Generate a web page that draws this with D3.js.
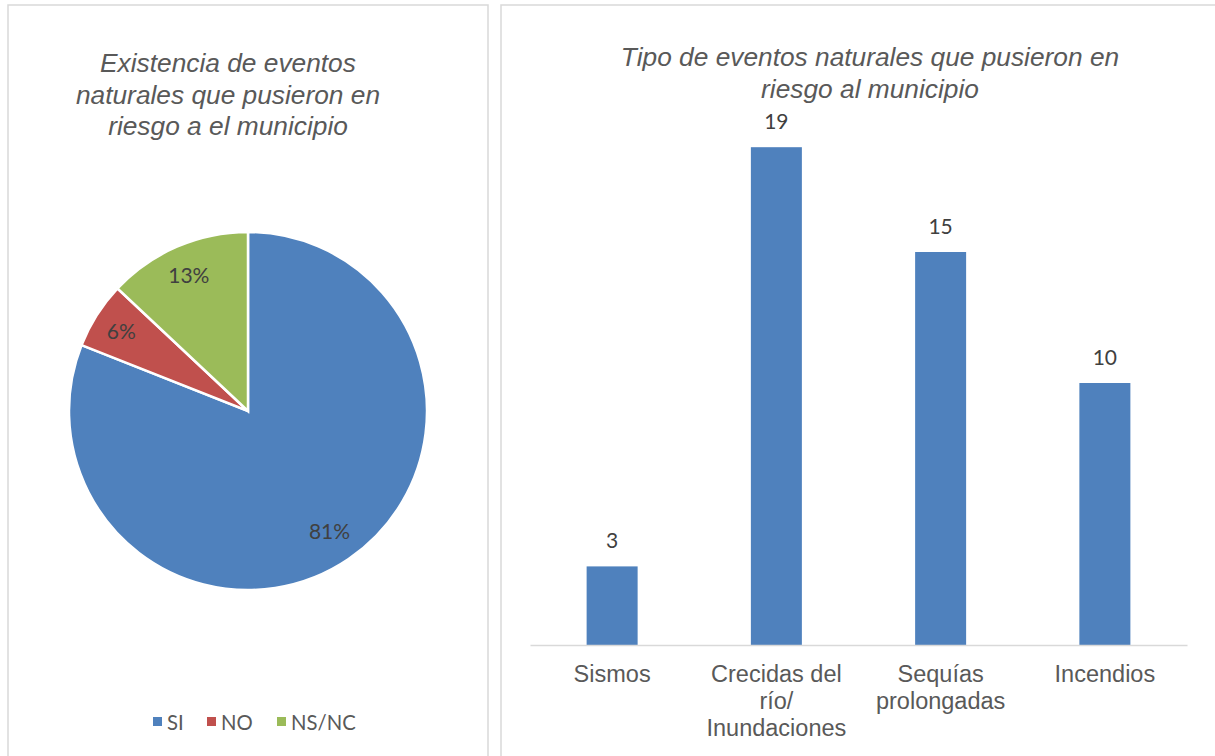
<!DOCTYPE html>
<html><head><meta charset="utf-8">
<script src="https://cdn.jsdelivr.net/npm/d3@7"></script>
<style>
html,body{margin:0;padding:0;background:#fff;}
svg{display:block;}
</style></head>
<body>
<svg id="chart" width="1215" height="756"></svg>
<script>
// ---- data ----
const pieCategories = ["SI", "NO", "NS/NC"];
const pieValues = [81, 6, 13];
const pieColors = ["#4f81bd", "#c0504d", "#9bbb59"];
const pieTitle = ["Existencia de eventos", "naturales que pusieron en", "riesgo a el municipio"];

const barCategories = [["Sismos"], ["Crecidas del", "río/", "Inundaciones"], ["Sequías", "prolongadas"], ["Incendios"]];
const barValues = [3, 19, 15, 10];
const barTitle = ["Tipo de eventos naturales que pusieron en", "riesgo al municipio"];
const barColor = "#4f81bd";

const svg = d3.select("#chart");
const borderColor = "#d9d9d9";
const titleFont = "'Liberation Sans', Arial, sans-serif";
const labelFont = "Lato, 'Open Sans', sans-serif";

// panels
svg.append("rect").attr("x", 8).attr("y", 5).attr("width", 480).attr("height", 780)
  .attr("fill", "#fff").attr("stroke", borderColor).attr("stroke-width", 1.5);
svg.append("rect").attr("x", 501).attr("y", 5).attr("width", 760).attr("height", 780)
  .attr("fill", "#fff").attr("stroke", borderColor).attr("stroke-width", 1.5);

// ---- pie ----
const cx = 248, cy = 411, R = 179;
const pieGen = d3.pie().sort(null).value(d => d)(pieValues);
const arc = d3.arc().innerRadius(0).outerRadius(R);
const labelR = [145, 150, 149];
const gp = svg.append("g").attr("transform", `translate(${cx},${cy})`);
gp.selectAll("path").data(pieGen).join("path")
  .attr("d", arc).attr("fill", (d, i) => pieColors[i])
  .attr("stroke", "#fff").attr("stroke-width", 2.5).attr("stroke-linejoin", "miter");
gp.selectAll("text").data(pieGen).join("text")
  .attr("transform", (d, i) => `translate(${d3.arc().innerRadius(labelR[i]).outerRadius(labelR[i]).centroid(d)})`)
  .attr("text-anchor", "middle").attr("dominant-baseline", "central")
  .attr("font-family", labelFont).attr("font-size", 21).attr("fill", "#404040")
  .text(d => d.data + "%");

// pie title
svg.append("text").attr("x", 228).attr("y", 72)
  .attr("text-anchor", "middle").attr("font-family", titleFont).attr("font-style", "italic")
  .attr("font-size", 26.3).attr("fill", "#595959")
  .selectAll("tspan").data(pieTitle).join("tspan")
  .attr("x", 228).attr("dy", (d, i) => i === 0 ? 0 : 31.5).text(d => d);

// legend
const legendX = [153, 207, 277];
const lg = svg.append("g");
pieCategories.forEach((c, i) => {
  lg.append("rect").attr("x", legendX[i]).attr("y", 717).attr("width", 9).attr("height", 9)
    .attr("fill", pieColors[i]);
  lg.append("text").attr("x", legendX[i] + 14).attr("y", 721.5)
    .attr("dominant-baseline", "central")
    .attr("font-family", labelFont).attr("font-size", 20.3).attr("fill", "#595959").text(c);
});

// ---- bar chart ----
const x0 = 530, x1 = 1187, yBase = 645, yTop = 121;
const p = 1 - 51 / ((x1 - x0) / 4);
const x = d3.scaleBand().domain(d3.range(barValues.length)).range([x0, x1])
  .paddingInner(p).paddingOuter(p / 2);
const y = d3.scaleLinear().domain([0, 20]).range([yBase, yTop]);

const gb = svg.append("g");
gb.selectAll("rect").data(barValues).join("rect")
  .attr("x", (d, i) => x(i)).attr("width", x.bandwidth())
  .attr("y", d => y(d)).attr("height", d => y(0) - y(d))
  .attr("fill", barColor);
gb.selectAll("text.val").data(barValues).join("text").attr("class", "val")
  .attr("x", (d, i) => x(i) + x.bandwidth() / 2).attr("y", d => y(d) - 18)
  .attr("text-anchor", "middle").attr("font-family", labelFont).attr("font-size", 21)
  .attr("fill", "#404040").text(d => d);

const xAxis = d3.axisBottom(x).tickSize(0).tickSizeOuter(0).tickFormat("");
const ga = svg.append("g").attr("transform", `translate(0,${yBase})`).call(xAxis);
ga.select(".domain").attr("stroke", borderColor).attr("stroke-width", 1.5);
ga.selectAll(".tick").each(function(d) {
  const t = d3.select(this).select("text");
  t.attr("y", 0).attr("dy", null).attr("font-family", titleFont).attr("font-size", 23.5)
    .attr("fill", "#595959").attr("text-anchor", "middle");
  t.selectAll("tspan").data(barCategories[d]).join("tspan")
    .attr("x", 0).attr("y", (s, j) => 37 + j * 27).text(s => s);
});

// bar title
svg.append("text").attr("x", 870).attr("y", 66)
  .attr("text-anchor", "middle").attr("font-family", titleFont).attr("font-style", "italic")
  .attr("font-size", 26.3).attr("fill", "#595959")
  .selectAll("tspan").data(barTitle).join("tspan")
  .attr("x", 870).attr("dy", (d, i) => i === 0 ? 0 : 31.5).text(d => d);
</script>
</body></html>
